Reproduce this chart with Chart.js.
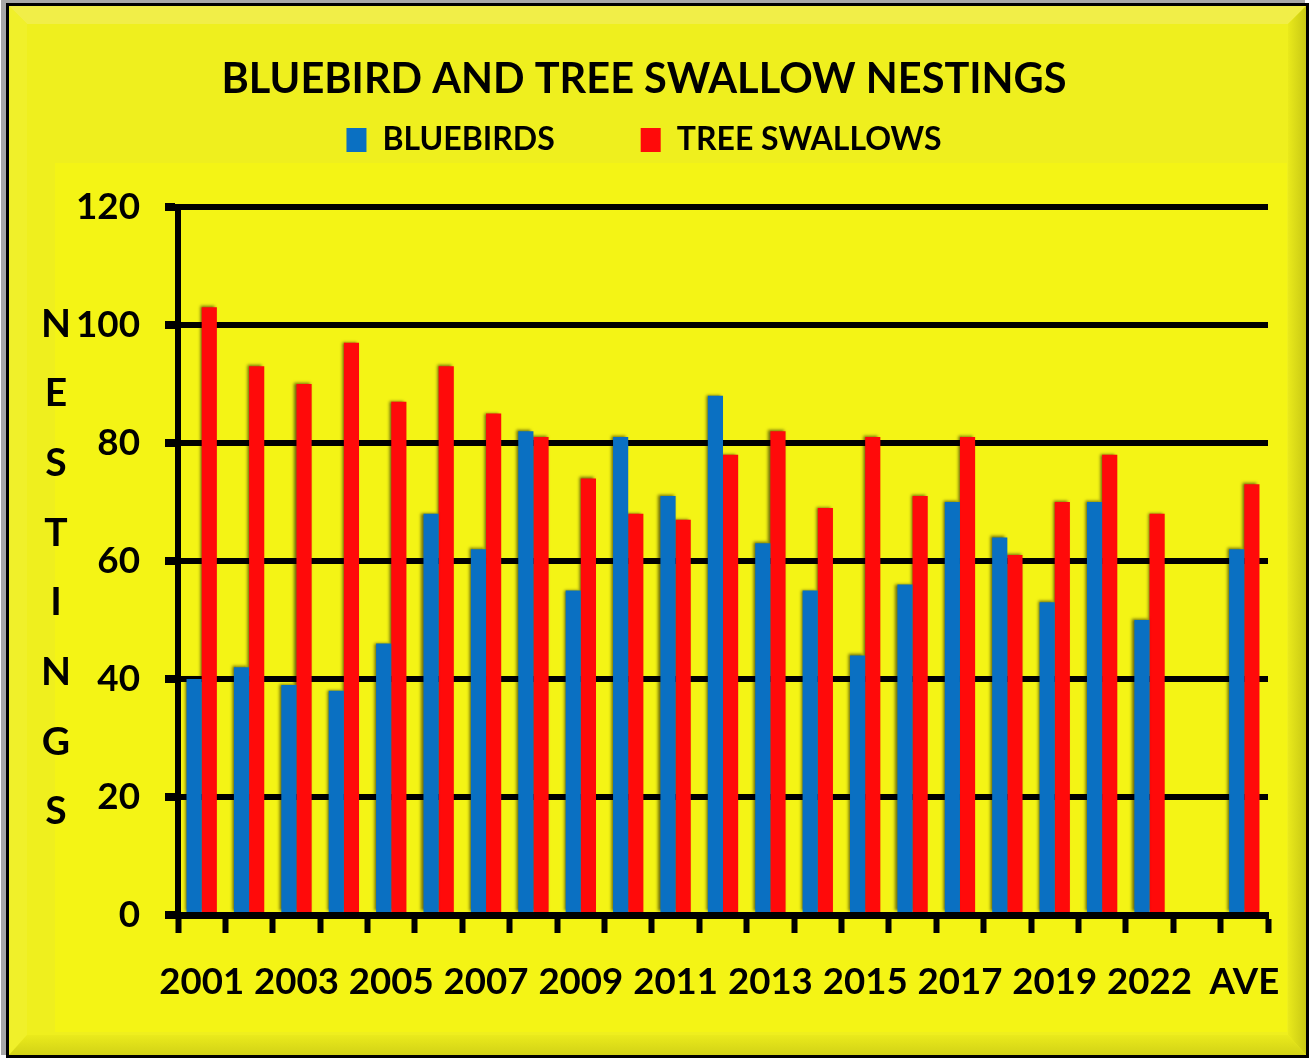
<!DOCTYPE html>
<html>
<head>
<meta charset="utf-8">
<script src="https://cdn.jsdelivr.net/npm/chart.js@4.4.1/dist/chart.umd.min.js"></script>
<style>
  html, body { margin: 0; padding: 0; background: #ffffff; }
  #wrap { width: 1310px; height: 1059px; position: relative; }
  canvas { display: block; }
</style>
</head>
<body>
<div id="wrap"><canvas id="c" width="1310" height="1059"></canvas></div>
<script>
// ---- data ----
const categories = ['2001','2002','2003','2004','2005','2006','2007','2008','2009','2010',
                    '2011','2012','2013','2014','2015','2016','2017','2018','2019','2021',
                    '2022','','AVE'];
const bluebirds    = [40, 42, 39, 38, 46, 68, 62, 82, 55, 81, 71, 88, 63, 55, 44, 56, 70, 64, 53, 70, 50, null, 62];
const treeSwallows = [103, 93, 90, 97, 87, 93, 85, 81, 74, 68, 67, 78, 82, 69, 81, 71, 81, 61, 70, 78, 68, null, 73];
const seriesNames = ['BLUEBIRDS', 'TREE SWALLOWS'];
const titleText = 'BLUEBIRD AND TREE SWALLOW NESTINGS';
const yAxisTitle = 'NESTINGS';
const yMin = 0, yMax = 120, yStep = 20;

const FONT = 'Lato, "Liberation Sans", Arial, sans-serif';

// fit a bold font size so that a sample string has a given width
const mctx = document.createElement('canvas').getContext('2d');
function fitSize(text, width) {
  mctx.font = 'bold 100px ' + FONT;
  const w = mctx.measureText(text).width;
  return Math.round(1000 * width / w) / 10;
}
const titleSize  = fitSize(titleText, 845);
const legendSize = fitSize(seriesNames[0], 172);
const xTickSize  = fitSize('2001', 85);
const yTickSize  = fitSize('120', 64);

// vertical layout of the header (title centre ~80, legend centre ~140, plot top ~207)
const titleLH = titleSize * 1.2;
const titleTop = 80 - titleLH / 2;
const legendPad = 86;
const legendItemH = Math.max(legendSize, 24);
const legendTop = 140 - legendPad - legendItemH / 2;
const titleBottom = legendTop - (titleTop + titleLH);
const spacer = 207 - (legendTop + legendItemH + legendPad + 10);

// ---- decoration plugins ----
const framePlugin = {
  id: 'frame',
  beforeDraw(chart) {
    const ctx = chart.ctx, W = chart.width, H = chart.height;
    ctx.save();
    ctx.fillStyle = '#ffffff';
    ctx.fillRect(0, 0, W, H);
    ctx.fillStyle = '#a8a8a8';
    ctx.fillRect(1, 0, W - 6, H - 4);
    ctx.fillStyle = '#000000';
    ctx.fillRect(6, 3, W - 7, H - 4);
    ctx.fillStyle = '#EFEF1E';
    ctx.fillRect(9, 6, W - 13, H - 10);
    ctx.fillStyle = '#F1EE48';
    ctx.beginPath();
    ctx.moveTo(9, 6); ctx.lineTo(W - 4, 6); ctx.lineTo(W - 22, 24); ctx.lineTo(27, 24); ctx.closePath(); ctx.fill();
    ctx.fillStyle = '#F0F02A';
    ctx.beginPath();
    ctx.moveTo(9, 6); ctx.lineTo(27, 24); ctx.lineTo(27, H - 24); ctx.lineTo(9, H - 4); ctx.closePath(); ctx.fill();
    const gr = ctx.createLinearGradient(W - 24, 0, W - 4, 0);
    gr.addColorStop(0, '#EDED1C'); gr.addColorStop(1, '#C8C814');
    ctx.fillStyle = gr;
    ctx.beginPath();
    ctx.moveTo(W - 4, 6); ctx.lineTo(W - 22, 24); ctx.lineTo(W - 22, H - 24); ctx.lineTo(W - 4, H - 4); ctx.closePath(); ctx.fill();
    const gb = ctx.createLinearGradient(0, H - 26, 0, H - 4);
    gb.addColorStop(0, '#EDED1C'); gb.addColorStop(1, '#D2D216');
    ctx.fillStyle = gb;
    ctx.beginPath();
    ctx.moveTo(9, H - 4); ctx.lineTo(27, H - 24); ctx.lineTo(W - 22, H - 24); ctx.lineTo(W - 4, H - 4); ctx.closePath(); ctx.fill();
    ctx.fillStyle = '#F4F415';
    ctx.fillRect(55, 163, W - 78, H - 190);
    ctx.restore();
  }
};

const yTitlePlugin = {
  id: 'yTitleStack',
  afterDraw(chart) {
    const ctx = chart.ctx;
    ctx.save();
    ctx.font = 'bold 39px ' + FONT;
    ctx.fillStyle = '#000';
    ctx.textAlign = 'center';
    ctx.textBaseline = 'middle';
    const letters = Array.from(yAxisTitle);
    const top = chart.chartArea.top + 117;
    const step = 69.7;
    letters.forEach((ch, i) => ctx.fillText(ch, 56, top + i * step));
    ctx.restore();
  }
};

const barShadowPlugin = {
  id: 'barShadow',
  beforeDatasetsDraw(chart) {
    const ctx = chart.ctx;
    ctx.save();
    ctx.shadowColor = 'rgba(0,0,0,0.55)';
    ctx.shadowBlur = 3;
    ctx.shadowOffsetX = -2;
    ctx.shadowOffsetY = -1;
  },
  afterDatasetsDraw(chart) {
    chart.ctx.restore();
  }
};

new Chart(document.getElementById('c'), {
  type: 'bar',
  data: {
    labels: categories,
    datasets: [
      { label: seriesNames[0], data: bluebirds, backgroundColor: '#0A70C2', borderWidth: 0,
        categoryPercentage: 0.64, barPercentage: 1.0 },
      { label: seriesNames[1], data: treeSwallows, backgroundColor: '#FF0A0A', borderWidth: 0,
        categoryPercentage: 0.64, barPercentage: 1.0 }
    ]
  },
  options: {
    responsive: false,
    animation: false,
    devicePixelRatio: 1,
    layout: { padding: { left: 20, right: 42, top: 0, bottom: 0 } },
    plugins: {
      tooltip: { enabled: false },
      title: {
        display: true, text: titleText, color: '#000',
        font: { family: FONT, size: titleSize, weight: 'bold', lineHeight: 1.2 },
        padding: { top: titleTop, bottom: titleBottom }
      },
      legend: {
        display: true, position: 'top', align: 'center',
        labels: {
          color: '#000',
          font: { family: FONT, size: legendSize, weight: 'bold' },
          boxWidth: 20, boxHeight: 24, padding: legendPad
        }
      },
      subtitle: {
        display: true, text: '', weight: 500,
        font: { size: 10, lineHeight: 1 },
        padding: { top: spacer - 10, bottom: 0 }
      }
    },
    scales: {
      x: {
        offset: true,
        grid: { display: true, offset: true, drawOnChartArea: false, drawTicks: true,
                tickLength: 18, tickWidth: 6, tickColor: '#000', color: '#000' },
        border: { display: true, color: '#000', width: 7 },
        ticks: {
          autoSkip: false, maxRotation: 0, minRotation: 0, color: '#000', padding: 27,
          font: { family: FONT, size: xTickSize, weight: 'bold' },
          callback: (v, i) => (i % 2 === 0 ? categories[i] : '')
        },
        afterFit: (s) => { s.height = 144; }
      },
      y: {
        min: yMin, max: yMax,
        grid: { color: '#000', lineWidth: 6, drawTicks: true, tickLength: 13, tickWidth: 8, tickColor: '#000' },
        border: { display: true, color: '#000', width: 6 },
        ticks: {
          stepSize: yStep, color: '#000', padding: 25,
          font: { family: FONT, size: yTickSize, weight: 'bold' }
        },
        afterFit: (s) => { s.width = 158; }
      }
    }
  },
  plugins: [framePlugin, barShadowPlugin, yTitlePlugin]
});
</script>
</body>
</html>
